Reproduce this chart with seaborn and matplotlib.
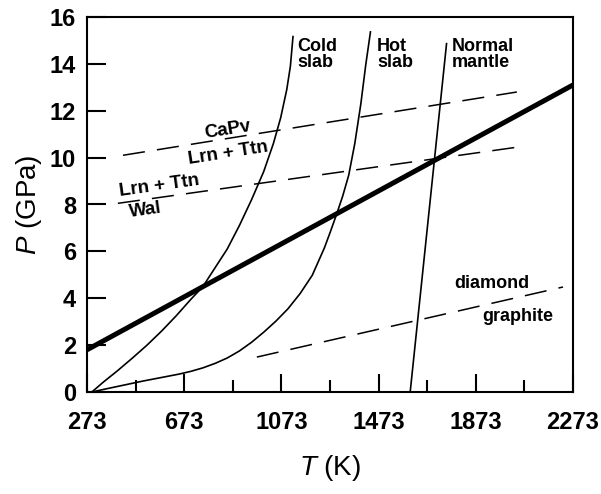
import matplotlib
matplotlib.use("Agg")
import matplotlib.pyplot as plt
import seaborn as sns

# ---------------- data ----------------
x_major_ticks = [273, 673, 1073, 1473, 1873, 2273]
x_minor_ticks = [473, 873, 1273, 1673, 2073]
y_ticks = [0, 2, 4, 6, 8, 10, 12, 14, 16]

cold_T = [293, 340, 400, 460, 520, 580, 640, 700, 750, 800, 850, 900, 950,
          1000, 1040, 1070, 1095, 1110, 1121]
cold_P = [0.0, 0.42, 0.92, 1.45, 2.0, 2.6, 3.25, 3.95, 4.5, 5.3, 6.1, 7.1, 8.2,
          9.4, 10.6, 11.7, 12.9, 13.9, 15.2]

hot_T = [293, 350, 400, 450, 500, 550, 600, 650, 700, 750, 800, 850, 900, 950,
         1000, 1050, 1100, 1150, 1200, 1250, 1275, 1300, 1325, 1350, 1375,
         1400, 1420, 1440]
hot_P = [0.0, 0.13, 0.24, 0.35, 0.46, 0.56, 0.66, 0.76, 0.88, 1.03, 1.22, 1.45,
         1.75, 2.12, 2.55, 3.02, 3.55, 4.2, 4.98, 6.15, 6.85, 7.58, 8.35, 9.25,
         10.6, 12.3, 13.95, 15.4]

mantle_T = [1603, 1753]
mantle_P = [0.0, 14.9]

thick_T = [273, 2273]
thick_P = [1.8, 13.1]

capv_T = [421, 2042]
capv_P = [10.1, 12.8]

wal_T = [400, 2046]
wal_P = [8.05, 10.45]

graph_T = [972, 2232]
graph_P = [1.49, 4.48]

# ---------------- style ----------------
sns.set_style("ticks")
plt.rcParams['font.family'] = ['Liberation Sans', 'DejaVu Sans']
plt.rcParams['mathtext.fontset'] = 'custom'
plt.rcParams['mathtext.rm'] = 'Liberation Sans'
plt.rcParams['mathtext.it'] = 'Liberation Sans:italic'
plt.rcParams['text.color'] = 'black'
plt.rcParams['axes.labelcolor'] = 'black'
plt.rcParams['xtick.color'] = 'black'
plt.rcParams['ytick.color'] = 'black'

fig = plt.figure(figsize=(6.01, 4.94), dpi=100)
ax = fig.add_axes([87/601, 1 - 392/494, (573-87)/601, (392-17)/494])

def draw(T, P, lw, dashed=False):
    sns.lineplot(x=T, y=P, ax=ax, color='black', lw=lw, sort=False,
                 estimator=None)
    ln = ax.lines[-1]
    ln.set_solid_capstyle('butt')
    ln.set_solid_joinstyle('round')
    if dashed:
        ln.set_linestyle((0, (14.5, 8)))
        ln.set_dash_capstyle('butt')

draw(cold_T, cold_P, 1.2)
draw(hot_T, hot_P, 1.2)
draw(mantle_T, mantle_P, 1.2)
draw(thick_T, thick_P, 3.6)
draw(capv_T, capv_P, 1.1, dashed=True)
draw(wal_T, wal_P, 1.1, dashed=True)
draw(graph_T, graph_P, 1.1, dashed=True)

ax.set_xlim(273, 2273)
ax.set_ylim(0, 16)
ax.set_xticks(x_major_ticks)
ax.set_xticks(x_minor_ticks, minor=True)
ax.set_yticks(y_ticks)
ax.set_xticklabels([str(v) for v in x_major_ticks], fontweight='bold')
ax.set_yticklabels([str(v) for v in y_ticks], fontweight='bold')

for s in ax.spines.values():
    s.set_visible(True)
    s.set_linewidth(1.5)
    s.set_color('black')

ax.tick_params(axis='x', which='major', direction='in', length=13, width=1.5,
               labelsize=17, pad=14, colors='black')
ax.tick_params(axis='x', which='minor', direction='in', length=8.6, width=1.5,
               colors='black')
ax.tick_params(axis='y', which='major', direction='in', length=13.7, width=1.5,
               labelsize=17, pad=8, colors='black')

ax.set_xlabel(r'$T$ (K)', fontsize=20, labelpad=13)
ax.set_ylabel(r'$P$ (GPa)', fontsize=20, labelpad=4)

fs = 13
ax.text(1137, 15.1, 'Cold\nslab', fontsize=fs, fontweight='bold', ha='left', va='top', linespacing=0.9)
ax.text(1466, 15.1, 'Hot\nslab', fontsize=fs, fontweight='bold', ha='left', va='top', linespacing=0.9)
ax.text(1775, 15.1, 'Normal\nmantle', fontsize=fs, fontweight='bold', ha='left', va='top', linespacing=0.9)

ax.text(853, 11.2, 'CaPv', fontsize=13.5, fontweight='bold', ha='center', va='center', rotation=9)
ax.text(853, 10.2, 'Lrn + Ttn', fontsize=13.5, fontweight='bold', ha='center', va='center', rotation=9)
ax.text(569, 8.79, 'Lrn + Ttn', fontsize=13.5, fontweight='bold', ha='center', va='center', rotation=8)
ax.text(512, 7.76, 'Wal', fontsize=13.5, fontweight='bold', ha='center', va='center', rotation=8)

ax.text(1940, 4.65, 'diamond', fontsize=13, fontweight='bold', ha='center', va='center')
ax.text(2047, 3.21, 'graphite', fontsize=13, fontweight='bold', ha='center', va='center')

fig.savefig('out.png', dpi=100)
